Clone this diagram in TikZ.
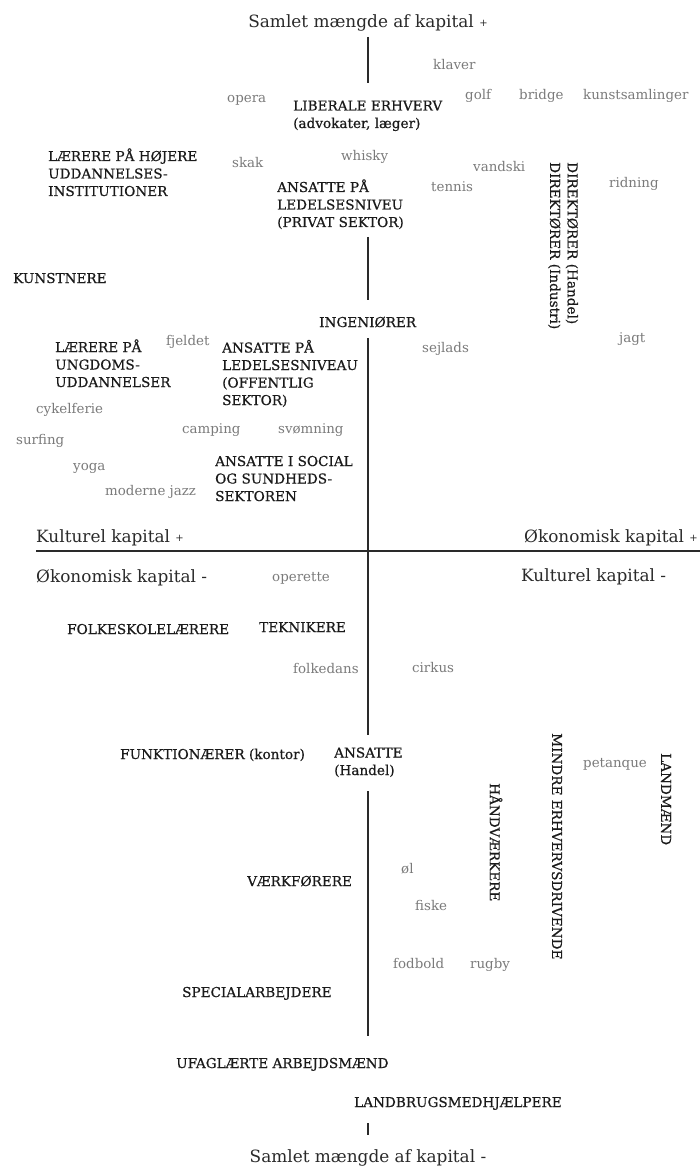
\documentclass[tikz,border=0pt]{standalone}
\usepackage{fontspec}
\setmainfont{DejaVu Serif}
\newfontfamily\klassefont[FakeBold=0.6]{DejaVu Serif}
\usepackage{tikz}
\usepackage{xcolor}
\usetikzlibrary{positioning}

\definecolor{klassefarve}{HTML}{1A1A1A}
\definecolor{smagfarve}{HTML}{7A7A7A}
\definecolor{aksefarve}{HTML}{2A2A2A}
\newcommand{\plustegn}{{\fontsize{10}{10}\selectfont\raisebox{1pt}{+}}}

\begin{document}
\begin{tikzpicture}[x=1pt,y=-1pt,
	klasse/.style={font=\klassefont\fontsize{13.6}{17.5}\selectfont, text=klassefarve, align=left, inner sep=0pt, anchor=base west},
	smag/.style={font=\fontsize{13.4}{15}\selectfont, text=smagfarve, inner sep=0pt, anchor=base west},
	akselabel/.style={font=\fontsize{16.9}{19}\selectfont, text=aksefarve, inner sep=0pt, anchor=base west},
	lodret/.style={font=\klassefont\fontsize{13.6}{17.5}\selectfont, text=klassefarve, align=left, inner sep=0pt, rotate=-90, anchor=west},
	akse/.style={draw=aksefarve, line width=1.2pt}]
		\useasboundingbox (0,0) rectangle (700,1166);

		% Axes titles
		\node[akselabel, anchor=base] (samletplus) at (368,28) {Samlet mængde af kapital \plustegn};
		\node[akselabel, anchor=base] (samletminus) at (368,1162) {Samlet mængde af kapital -};
		\node[akselabel] (kulturplus) at (36,542) {Kulturel kapital \plustegn};
		\node[akselabel] (oekominus) at (36,582) {Økonomisk kapital -};
		\node[akselabel, anchor=base east] (oekoplus) at (698,542) {Økonomisk kapital \plustegn};
		\node[akselabel] (kulturminus) at (521,581) {Kulturel kapital -};

		% Axes
		\coordinate (v1a) at (368,37);   \coordinate (v1b) at (368,83);
		\coordinate (v2a) at (368,237);  \coordinate (v2b) at (368,300);
		\coordinate (v3a) at (368,338);  \coordinate (v3b) at (368,735);
		\coordinate (v4a) at (368,791);  \coordinate (v4b) at (368,1036);
		\coordinate (v5a) at (368,1123); \coordinate (v5b) at (368,1135);
		\coordinate (hv) at (36,551);    \coordinate (hh) at (700,551);
		\draw[akse] (v1a) -- (v1b);
		\draw[akse] (v2a) -- (v2b);
		\draw[akse] (v3a) -- (v3b);
		\draw[akse] (v4a) -- (v4b);
		\draw[akse] (v5a) -- (v5b);
		\draw[akse, line width=1.5pt] (hv) -- (hh);

		% Positions (classes), anchored at the baseline of the last line
		\node[klasse] (liberale) at (293,128) {LIBERALE ERHVERV\\(advokater, læger)};
		\node[klasse] (laererhoej) at (48,196) {LÆRERE PÅ HØJERE\\UDDANNELSES-\\INSTITUTIONER};
		\node[klasse] (ansatteprivat) at (277,227) {ANSATTE PÅ\\LEDELSESNIVEU\\(PRIVAT SEKTOR)};
		\node[klasse] (kunstnere) at (13,283) {KUNSTNERE};
		\node[klasse] (ingenioerer) at (319,327) {INGENIØRER};
		\node[klasse] (laererungdom) at (55,387) {LÆRERE PÅ\\UNGDOMS-\\UDDANNELSER};
		\node[klasse] (ansatteoffentlig) at (222,405) {ANSATTE PÅ\\LEDELSESNIVEAU\\(OFFENTLIG\\SEKTOR)};
		\node[klasse] (ansattesocial) at (215,501) {ANSATTE I SOCIAL\\OG SUNDHEDS-\\SEKTOREN};
		\node[klasse] (folkeskole) at (67,634) {FOLKESKOLELÆRERE};
		\node[klasse] (teknikere) at (259,632) {TEKNIKERE};
		\node[klasse] (funktionaerer) at (120,759) {FUNKTIONÆRER (kontor)};
		\node[klasse] (ansattehandel) at (334,775) {ANSATTE\\(Handel)};
		\node[klasse] (vaerkfoerere) at (247,886) {VÆRKFØRERE};
		\node[klasse] (special) at (182,997) {SPECIALARBEJDERE};
		\node[klasse] (ufaglaerte) at (176,1068) {UFAGLÆRTE ARBEJDSMÆND};
		\node[klasse] (landbrug) at (354,1107) {LANDBRUGSMEDHJÆLPERE};

		% Vertical labels
		\node[lodret] (direktoerer) at (563,162) {DIREKTØRER (Handel)\\DIREKTØRER (Industri)};
		\node[lodret] (mindre) at (557,733) {MINDRE ERHVERVSDRIVENDE};
		\node[lodret] (haandvaerkere) at (496,783) {HÅNDVÆRKERE};
		\node[lodret] (landmaend) at (666,753) {LANDMÆND};

		% Tastes
		\node[smag] (klaver) at (433,70) {klaver};
		\node[smag] (opera) at (227,103) {opera};
		\node[smag] (golf) at (465,100) {golf};
		\node[smag] (bridge) at (519,100) {bridge};
		\node[smag] (kunstsamlinger) at (583,100) {kunstsamlinger};
		\node[smag] (whisky) at (341,161) {whisky};
		\node[smag] (skak) at (232,168) {skak};
		\node[smag] (vandski) at (473,172) {vandski};
		\node[smag] (tennis) at (431,192) {tennis};
		\node[smag] (ridning) at (609,188) {ridning};
		\node[smag] (fjeldet) at (166,345) {fjeldet};
		\node[smag] (sejlads) at (422,352) {sejlads};
		\node[smag] (jagt) at (619,342) {jagt};
		\node[smag] (cykelferie) at (36,413) {cykelferie};
		\node[smag] (camping) at (182,433) {camping};
		\node[smag] (svoemning) at (278,433) {svømning};
		\node[smag] (surfing) at (16,444) {surfing};
		\node[smag] (yoga) at (73,470) {yoga};
		\node[smag] (jazz) at (105,495) {moderne jazz};
		\node[smag] (operette) at (272,581) {operette};
		\node[smag] (folkedans) at (293,673) {folkedans};
		\node[smag] (cirkus) at (412,672) {cirkus};
		\node[smag] (petanque) at (583,767) {petanque};
		\node[smag] (oel) at (401,873) {øl};
		\node[smag] (fiske) at (415,910) {fiske};
		\node[smag] (fodbold) at (393,968) {fodbold};
		\node[smag] (rugby) at (470,968) {rugby};
	\end{tikzpicture}
\end{document}
